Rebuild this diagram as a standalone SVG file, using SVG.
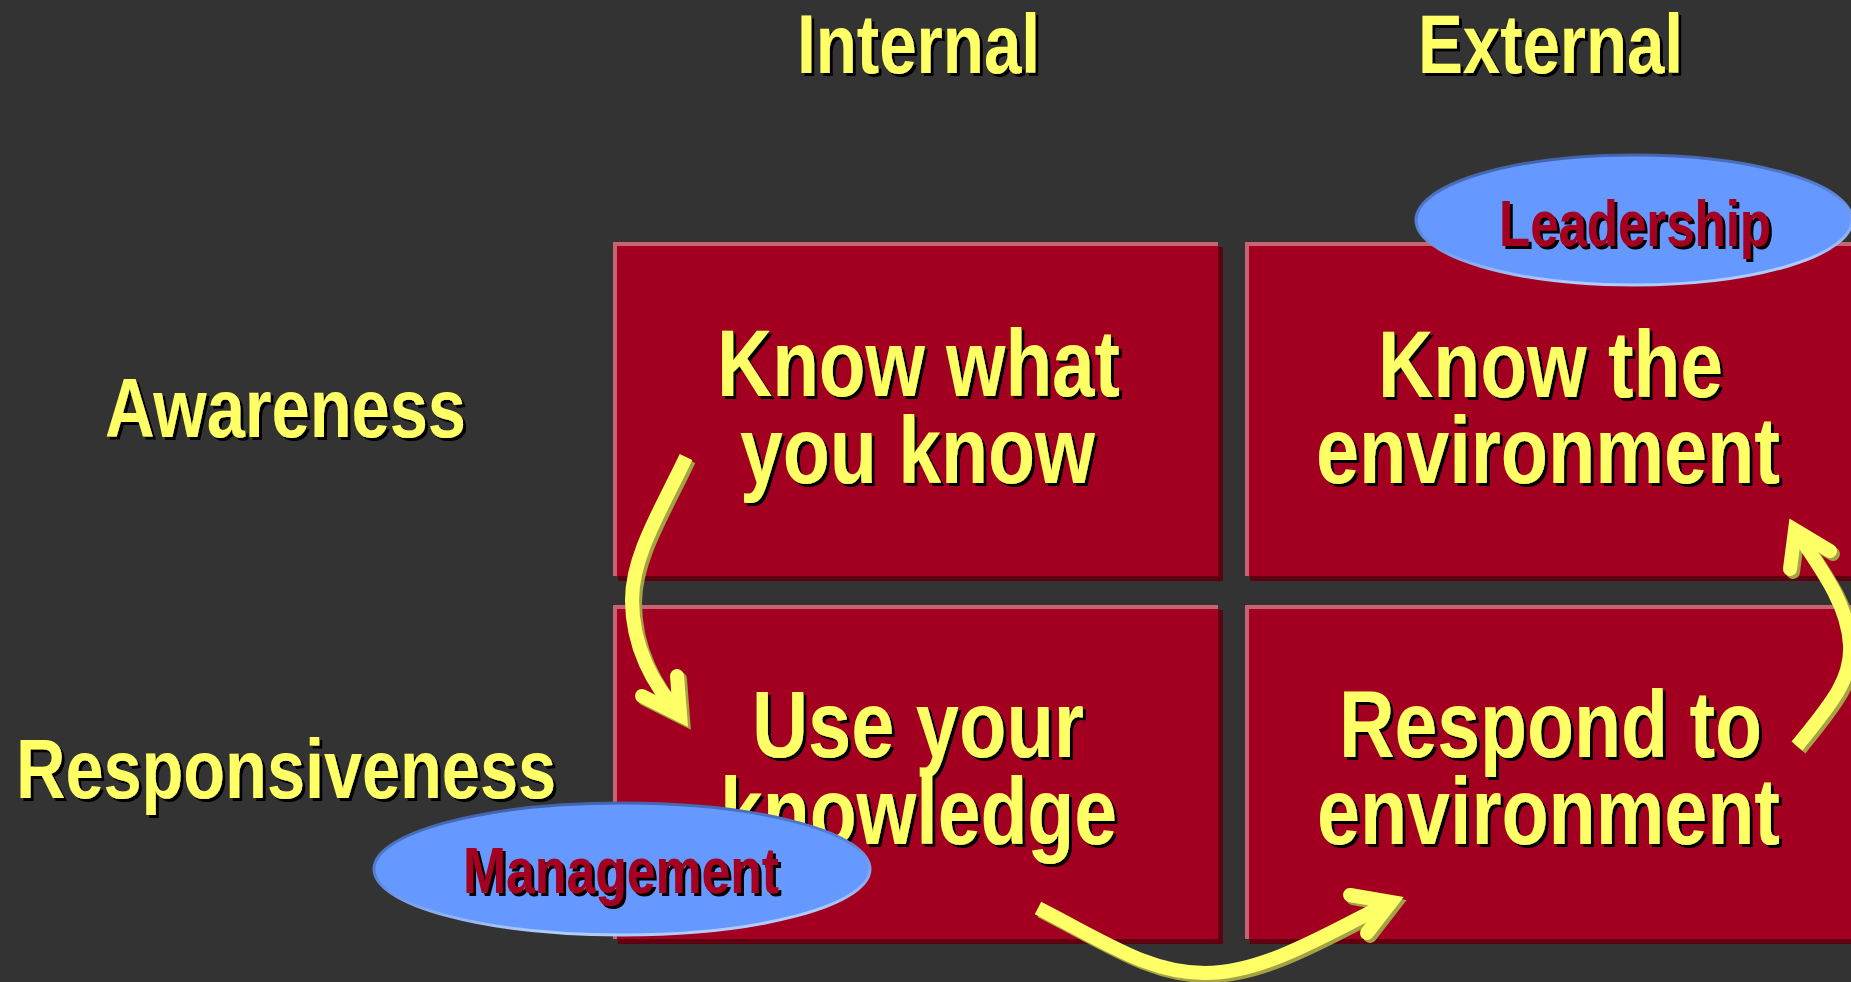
<svg xmlns="http://www.w3.org/2000/svg" width="1851" height="982" viewBox="0 0 1851 982">
  <style>
    .lbl { font-family: "Liberation Sans", Arial, sans-serif; font-weight: bold; fill: #FFFF66; }
    .big { font-size: 94px; }
    .hdr { font-size: 84px; }
    .ell { font-family: "Liberation Sans", Arial, sans-serif; font-weight: bold; font-size: 64px; fill: #A30021; }
    .box-edge { fill: #C86472; }
    .box-fill { fill: #A30021; }
    .box-shadow { fill: #5E0012; }
    .oval { fill: #6699FF; stroke: url(#ovalStroke); stroke-width: 3; }
    .shaft { fill: none; stroke: #FFFF66; stroke-width: 14; stroke-linecap: butt; }
    .head { fill: none; stroke: #FFFF66; stroke-width: 14; stroke-linejoin: miter; stroke-miterlimit: 6; stroke-linecap: round; }
  </style>
  <defs>
    <filter id="txtShadow" x="-5%" y="-5%" width="110%" height="120%">
      <feDropShadow dx="3" dy="3" stdDeviation="0" flood-color="#000000" flood-opacity="1"/>
    </filter>
    <filter id="arrowShadow" x="-10%" y="-10%" width="120%" height="120%">
      <feDropShadow dx="3" dy="3" stdDeviation="0" flood-color="#A3A345" flood-opacity="1"/>
    </filter>
    <linearGradient id="ovalStroke" x1="0" y1="0" x2="0.3" y2="1">
      <stop offset="0" stop-color="#3E5C9E"/>
      <stop offset="0.5" stop-color="#5580D8"/>
      <stop offset="1" stop-color="#B0CCFF"/>
    </linearGradient>
  </defs>

  <rect x="0" y="0" width="1851" height="982" fill="#333333"/>

  <!-- Column / row headers -->
  <g id="header-internal" filter="url(#txtShadow)">
    <text class="lbl hdr" x="797" y="73" textLength="243" lengthAdjust="spacingAndGlyphs">Internal</text>
  </g>
  <g id="header-external" filter="url(#txtShadow)">
    <text class="lbl hdr" x="1418" y="73" textLength="265" lengthAdjust="spacingAndGlyphs">External</text>
  </g>
  <g id="row-awareness" filter="url(#txtShadow)">
    <text class="lbl hdr" x="105" y="437" textLength="361" lengthAdjust="spacingAndGlyphs">Awareness</text>
  </g>
  <g id="row-responsiveness" filter="url(#txtShadow)">
    <text class="lbl hdr" x="16" y="798" textLength="540" lengthAdjust="spacingAndGlyphs">Responsiveness</text>
  </g>

  <!-- Box 1 -->
  <g id="box-know-what-you-know">
    <rect class="box-shadow" x="618" y="247" width="605" height="334"/>
    <rect class="box-edge" x="613" y="242" width="605" height="334"/>
    <rect class="box-fill" x="617" y="246" width="601" height="330"/>
    <g filter="url(#txtShadow)">
      <text class="lbl big" x="717" y="396" textLength="403" lengthAdjust="spacingAndGlyphs">Know what</text>
      <text class="lbl big" x="740" y="483" textLength="355" lengthAdjust="spacingAndGlyphs">you know</text>
    </g>
  </g>

  <!-- Box 2 -->
  <g id="box-know-the-environment">
    <rect class="box-shadow" x="1250" y="247" width="606" height="334"/>
    <rect class="box-edge" x="1245" y="242" width="606" height="334"/>
    <rect class="box-fill" x="1249" y="246" width="602" height="330"/>
    <g filter="url(#txtShadow)">
      <text class="lbl big" x="1378" y="397" textLength="345" lengthAdjust="spacingAndGlyphs">Know the</text>
      <text class="lbl big" x="1316" y="483" textLength="464" lengthAdjust="spacingAndGlyphs">environment</text>
    </g>
  </g>

  <!-- Box 3 -->
  <g id="box-use-your-knowledge">
    <rect class="box-shadow" x="618" y="610" width="605" height="334"/>
    <rect class="box-edge" x="613" y="605" width="605" height="334"/>
    <rect class="box-fill" x="617" y="609" width="601" height="330"/>
    <g filter="url(#txtShadow)">
      <text class="lbl big" x="752" y="757" textLength="332" lengthAdjust="spacingAndGlyphs">Use your</text>
      <text class="lbl big" x="720" y="844" textLength="397" lengthAdjust="spacingAndGlyphs">knowledge</text>
    </g>
  </g>

  <!-- Box 4 -->
  <g id="box-respond-to-environment">
    <rect class="box-shadow" x="1250" y="610" width="606" height="334"/>
    <rect class="box-edge" x="1245" y="605" width="606" height="334"/>
    <rect class="box-fill" x="1249" y="609" width="602" height="330"/>
    <g filter="url(#txtShadow)">
      <text class="lbl big" x="1339" y="757" textLength="423" lengthAdjust="spacingAndGlyphs">Respond to</text>
      <text class="lbl big" x="1317" y="844" textLength="463" lengthAdjust="spacingAndGlyphs">environment</text>
    </g>
  </g>

  <!-- Ovals -->
  <g id="oval-leadership">
    <ellipse class="oval" cx="1634" cy="220" rx="218" ry="65"/>
    <g filter="url(#txtShadow)">
      <text class="ell" x="1499" y="246" textLength="272" lengthAdjust="spacingAndGlyphs">Leadership</text>
    </g>
  </g>
  <g id="oval-management">
    <ellipse class="oval" cx="622" cy="869" rx="248" ry="66"/>
    <g filter="url(#txtShadow)">
      <text class="ell" x="463" y="893" textLength="316" lengthAdjust="spacingAndGlyphs">Management</text>
    </g>
  </g>

  <!-- Connectors -->
  <g id="connectors" filter="url(#arrowShadow)">
    <g id="arrow-know-to-use">
      <path class="shaft" d="M 686 457 C 662 508, 632 555, 632 600 C 632 645, 652 685, 680 714"/>
      <polyline class="head" points="642,696 680,715 677,676"/>
    </g>
    <g id="arrow-use-to-respond">
      <path class="shaft" d="M 1038 908 C 1110 945, 1150 973, 1205 973 C 1265 973, 1330 932, 1391 902"/>
      <polyline class="head" points="1350,895 1391,902 1367,933"/>
    </g>
    <g id="arrow-respond-to-know">
      <path class="shaft" d="M 1797 746 C 1830 705, 1852 680, 1850 645 C 1848 605, 1822 570, 1795 530"/>
      <polyline class="head" points="1790,569 1795,530 1830,551"/>
    </g>
  </g>
</svg>
